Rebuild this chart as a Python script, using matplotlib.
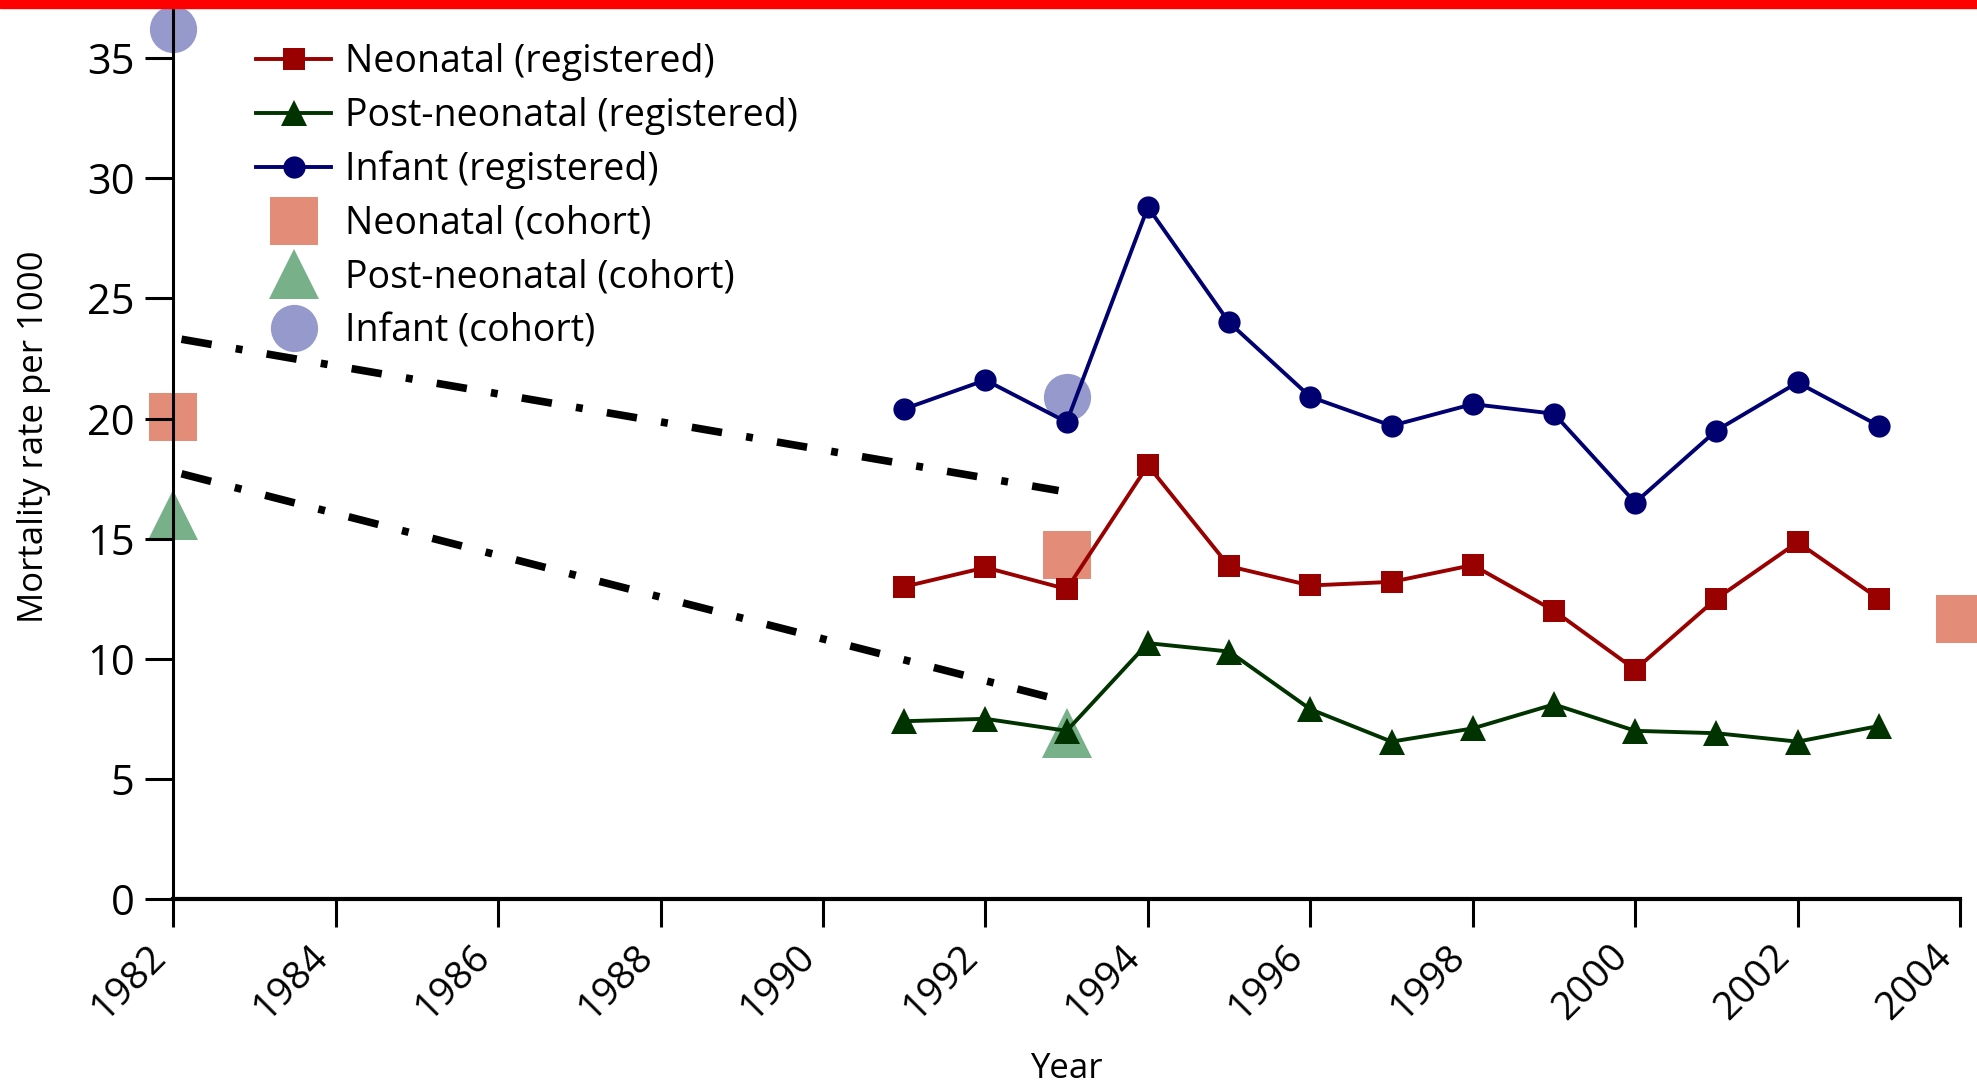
import matplotlib
matplotlib.use("Agg")
import matplotlib.pyplot as plt
from matplotlib.patches import Rectangle

plt.rcParams['font.family'] = ['Open Sans', 'DejaVu Sans']

# registered rates, 1991-2003
years = [1991, 1992, 1993, 1994, 1995, 1996, 1997, 1998, 1999, 2000, 2001, 2002, 2003]
neonatal_reg = [13.0, 13.8, 12.9, 18.05, 13.85, 13.05, 13.2, 13.9, 12.0, 9.55, 12.5, 14.85, 12.5]
postneo_reg = [7.4, 7.5, 7.0, 10.65, 10.3, 7.9, 6.55, 7.1, 8.1, 7.0, 6.9, 6.55, 7.2]
infant_reg = [20.4, 21.6, 19.85, 28.8, 24.0, 20.9, 19.7, 20.6, 20.2, 16.5, 19.5, 21.5, 19.7]

# cohort estimates
neonatal_coh_years = [1982, 1993, 2004]
neonatal_coh = [20.05, 14.3, 11.65]
postneo_coh_years = [1982, 1993]
postneo_coh = [16.0, 6.9]
infant_coh_years = [1982, 1993]
infant_coh = [36.2, 20.9]

# dash-dot trend lines
trend_years = [1982.1, 1992.9]
trend_upper = [23.3, 17.0]
trend_lower = [17.7, 8.3]

xticks = list(range(1982, 2005, 2))
yticks = [0, 5, 10, 15, 20, 25, 30, 35]

fig = plt.figure(figsize=(19.77, 10.86), dpi=100)
ax = fig.add_axes([0.0877, 0.1722, 0.9914 - 0.0877, 1 - 7 / 1086 - 0.1722])

dd = (0, (4.0, 3.2, 0.9, 3.2))
ax.plot(trend_years, trend_upper, color='black', lw=5.5, linestyle=dd, zorder=1)
ax.plot(trend_years, trend_lower, color='black', lw=5.5, linestyle=dd, zorder=1)

ax.plot(neonatal_coh_years, neonatal_coh, 's', color='#e38c78', ms=34, mew=0,
        clip_on=False, zorder=1.5, label='Neonatal (cohort)')
ax.plot(postneo_coh_years, postneo_coh, '^', color='#78b08a', ms=36, mew=0,
        clip_on=False, zorder=1.5, label='Post-neonatal (cohort)')
ax.plot(infant_coh_years, infant_coh, 'o', color='#9599cc', ms=34, mew=0,
        clip_on=False, zorder=1.5, label='Infant (cohort)')

ax.plot(years, neonatal_reg, 's-', color='#990000', lw=2.8, ms=16, mew=0,
        label='Neonatal (registered)')
ax.plot(years, postneo_reg, '^-', color='#003300', lw=2.8, ms=19, mew=0,
        label='Post-neonatal (registered)')
ax.plot(years, infant_reg, 'o-', color='#000070', lw=2.8, ms=16, mew=0,
        label='Infant (registered)')

ax.set_xlim(1982, 2004)
ax.set_ylim(0, 37.13)
ax.set_xticks(xticks)
ax.set_yticks(yticks)
ax.set_xticklabels([str(y) for y in xticks], rotation=45, ha='right', fontsize=28)
ax.tick_params(axis='y', labelsize=30)
ax.tick_params(direction='out', length=20, width=2.2, pad=8, color='black')

for s in ['top', 'right']:
    ax.spines[s].set_visible(False)
ax.spines['left'].set_linewidth(2.2)
ax.spines['bottom'].set_linewidth(3)

handles, labels = ax.get_legend_handles_labels()
order = [3, 4, 5, 0, 1, 2]
ax.legend([handles[i] for i in order], [labels[i] for i in order],
          loc='upper left', bbox_to_anchor=(256 / 1977, 1 - 43 / 1086),
          bbox_transform=fig.transFigure, frameon=False, fontsize=27,
          borderpad=0, borderaxespad=0, handlelength=2.0, handletextpad=0.37,
          labelspacing=0.42, numpoints=1)

fig.text(0.0172, 0.598, 'Mortality rate per 1000', rotation=90,
         ha='center', va='center', fontsize=25)
fig.text(0.5 * (0.0877 + 0.9914), 1 - 1069 / 1086, 'Year', ha='center', va='center', fontsize=25)

fig.patches.append(Rectangle((0, 1 - 7.5 / 1086), 1, 7.5 / 1086, transform=fig.transFigure,
                             color='#ff0000', zorder=10))

fig.savefig('out.png', dpi=100)
